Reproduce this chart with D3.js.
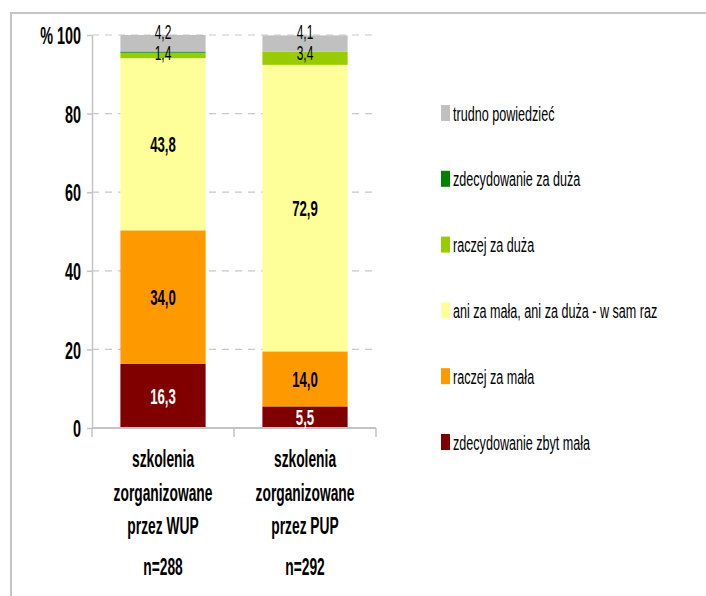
<!DOCTYPE html>
<html>
<head>
<meta charset="utf-8">
<script src="https://cdn.jsdelivr.net/npm/d3@7"></script>
<style>
  html, body { margin: 0; padding: 0; background: #fff; }
  svg { display: block; font-family: "Liberation Sans", Arial, sans-serif; }
</style>
</head>
<body>
<svg id="chart" width="706" height="596"></svg>
<script>
// Categories (multi-line axis labels) and sample sizes
const categories = ["WUP", "PUP"];
const categoryLines = [
  ["szkolenia", "zorganizowane", "przez WUP"],
  ["szkolenia", "zorganizowane", "przez PUP"]
];
const sampleSizes = ["n=288", "n=292"];

// Answer series, bottom to top of each stack
const seriesNames = [
  "zdecydowanie zbyt mała",
  "raczej za mała",
  "ani za mała, ani za duża - w sam raz",
  "raczej za duża",
  "zdecydowanie za duża",
  "trudno powiedzieć"
];
const seriesColors = ["#800000", "#FF9900", "#FFFF99", "#99CC00", "#008000", "#C0C0C0"];

// Percent shares per category, in series order
const valuesWUP = [16.3, 34.0, 43.8, 1.4, 0.3, 4.2];
const valuesPUP = [5.5, 14.0, 72.9, 3.4, 0.0, 4.1];

const yTicks = [0, 20, 40, 60, 80, 100];

// ---------------------------------------------------------------
const SX = 0.6;            // horizontal condensing of all text
const svg = d3.select("#chart");
const W = 706, H = 596;

svg.append("rect").attr("width", W).attr("height", H).attr("fill", "#fff");
// outer chart frame (runs off the right and bottom edges)
svg.append("rect")
  .attr("x", 11).attr("y", 13).attr("width", W + 20).attr("height", H + 20)
  .attr("fill", "none").attr("stroke", "#c4c4c4").attr("stroke-width", 2);

const plot = { left: 92, right: 376, top: 35, bottom: 428 };

const x = d3.scaleBand().domain(categories)
  .range([plot.left, plot.right]).paddingInner(0.4).paddingOuter(0.2);
const y = d3.scaleLinear().domain([0, 100]).range([plot.bottom, plot.top]);

const rows = categories.map((c, i) => {
  const vals = i === 0 ? valuesWUP : valuesPUP;
  const r = { cat: c };
  seriesNames.forEach((s, j) => r[s] = vals[j]);
  return r;
});
const stacked = d3.stack().keys(seriesNames)(rows);

// gridlines
svg.append("g").selectAll("line").data(yTicks.filter(d => d > 0)).join("line")
  .attr("x1", plot.left).attr("x2", plot.right)
  .attr("y1", d => y(d)).attr("y2", d => y(d))
  .attr("stroke", "#c8c8c8").attr("stroke-width", 1.2)
  .attr("stroke-dasharray", "7,6");

// stacked bars
svg.append("g").selectAll("g").data(stacked).join("g")
  .attr("fill", (d, i) => seriesColors[i])
  .selectAll("rect").data(d => d).join("rect")
  .attr("x", d => x(d.data.cat))
  .attr("width", x.bandwidth())
  .attr("y", d => y(d[1]))
  .attr("height", d => Math.max(0, y(d[0]) - y(d[1])));

// y axis
const yAxis = svg.append("g").attr("transform", `translate(${plot.left},0)`)
  .call(d3.axisLeft(y).tickValues(yTicks).tickSize(5).tickSizeOuter(0)
    .tickFormat(d => d === 100 ? "% 100" : d));
yAxis.select(".domain").attr("stroke", "#c4c4c4").attr("stroke-width", 1.5);
yAxis.selectAll(".tick line").attr("stroke", "#c4c4c4").attr("stroke-width", 1.5);
yAxis.selectAll(".tick text")
  .attr("x", -11 / SX).attr("dy", "0.36em")
  .attr("transform", `scale(${SX},1)`)
  .attr("font-size", 24).attr("font-weight", "bold").attr("fill", "#000");

// x axis line with ticks at category boundaries
const xAxis = svg.append("g");
xAxis.append("line")
  .attr("x1", plot.left).attr("x2", plot.right)
  .attr("y1", y(0)).attr("y2", y(0))
  .attr("stroke", "#c4c4c4").attr("stroke-width", 2);
const bounds = d3.range(categories.length + 1).map(i => plot.left + i * x.step());
xAxis.selectAll("line.tk").data(bounds).join("line").attr("class", "tk")
  .attr("x1", d => d).attr("x2", d => d)
  .attr("y1", y(0)).attr("y2", y(0) + 9)
  .attr("stroke", "#c4c4c4").attr("stroke-width", 1.5);

// helper: condensed text placed at (px, py)
function ctext(parent, px, py, str, size, weight, fill, anchor) {
  return parent.append("g").attr("transform", `translate(${px},${py}) scale(${SX},1)`)
    .append("text").text(str)
    .attr("font-size", size).attr("font-weight", weight || "normal")
    .attr("fill", fill || "#000").attr("text-anchor", anchor || "middle");
}

// category labels
const catG = svg.append("g");
categories.forEach((c, i) => {
  const cx = x(c) + x.bandwidth() / 2;
  categoryLines[i].forEach((ln, k) => ctext(catG, cx, y(0) + 39 + k * 33.5, ln, 23, "bold"));
  ctext(catG, cx, y(0) + 147, sampleSizes[i], 23, "bold");
});

// value labels
const fmt = v => d3.format(".1f")(v).replace(".", ",");
const labG = svg.append("g");
categories.forEach((c, i) => {
  const cx = x(c) + x.bandwidth() / 2;
  // large segments: bold label centred inside the segment
  [0, 1, 2].forEach(s => {
    const seg = stacked[s][i];
    const v = seg[1] - seg[0];
    ctext(labG, cx, (y(seg[0]) + y(seg[1])) / 2, fmt(v), 22, "bold", s === 0 ? "#fff" : "#000")
      .attr("dy", "0.36em");
  });
  // thin top segments: labels stacked downward from the top of the bar
  [5, 3].forEach((s, k) => {
    const seg = stacked[s][i];
    ctext(labG, cx, y(100) + 4 + k * 21, fmt(seg[1] - seg[0]), 20, "normal", "#000");
  });
});

// legend, top item = last series
const legG = svg.append("g");
const legendOrder = d3.range(seriesNames.length).reverse();
legendOrder.forEach((s, k) => {
  const cy = 113 + k * 65.8;
  legG.append("rect").attr("x", 441).attr("y", cy - 8).attr("width", 9).attr("height", 16)
    .attr("fill", seriesColors[s]);
  ctext(legG, 453, cy, seriesNames[s], 21, "normal", "#000", "start").attr("dy", "0.36em");
});
</script>
</body>
</html>
